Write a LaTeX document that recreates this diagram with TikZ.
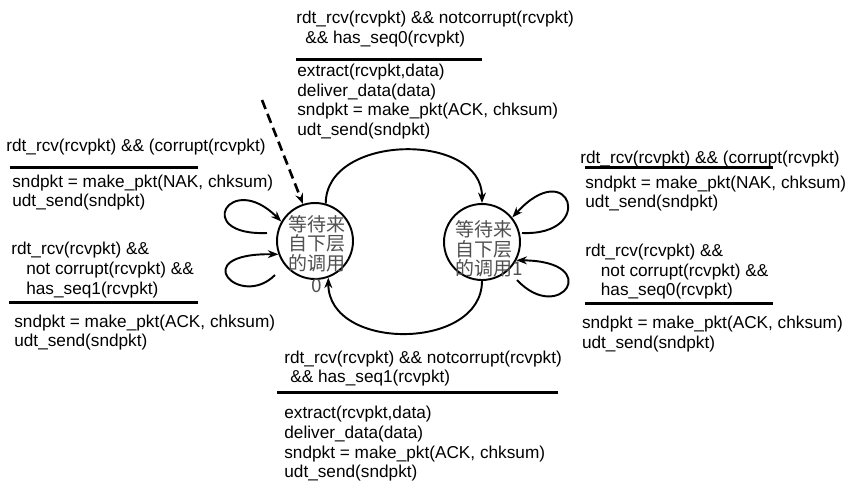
\documentclass[tikz,border=0pt]{standalone}
\usepackage{fontspec}
\setmainfont{Liberation Sans}
\newfontfamily\cjk{Noto Sans CJK SC}
\usetikzlibrary{arrows.meta}
\definecolor{stategray}{RGB}{80,80,80}

\begin{document}
\begin{tikzpicture}[x=0.02cm,y=0.02cm]
      \tikzstyle{state}=[circle,draw,line width=1.1pt,minimum size=1.52cm,inner sep=0]
      \tikzstyle{statetext}=[font=\cjk\fontsize{10.8}{11.1}\selectfont,text=stategray,inner sep=0]
      \tikzstyle{cond}=[anchor=north west,align=left,inner sep=0,font=\fontsize{9.8}{11.2}\selectfont]
      \tikzstyle{bar}=[line width=1.7pt]
      \tikzstyle{trans}=[-{Stealth[length=6pt,width=4.5pt]},line width=1.1pt]
      \useasboundingbox (0,0) rectangle (852,498);

      % the two states
      \node[state] (s0) at (315,257) {};
      \node[state] (s1) at (482,256) {};
      \node[statetext,align=center] (t0) at (317,244) {等待来\\自下层\\的调用\\[0.05cm]0};
      \node[statetext,align=left,anchor=west] (t1) at (455,249) {等待来\\自下层\\的调用1};

      % transitions
      \coordinate (init) at (262,398);
      \draw[trans,dashed,dash pattern=on 5.5pt off 3pt,line width=1.5pt] (init) -- (s0.108);
      \draw[trans] (s0.74) .. controls +(0,70) and +(0,72) .. (s1.90);
      \draw[trans] (s1.270) .. controls +(0,-70) and +(0,-74) .. (s0.290);
      \coordinate (l1) at (267,265);
      \coordinate (l2) at (275,223);
      \coordinate (r1) at (522,265);
      \coordinate (r2) at (517,218);
      \draw[trans] (l1) .. controls (192,262) and (230,328) .. (s0.150);
      \draw[trans] (l2) .. controls (240,188) and (185,245) .. (s0.200);
      \draw[trans] (r1) .. controls (597,262) and (570,344) .. (s1.39);
      \draw[trans] (r2) .. controls (560,172) and (605,237) .. (s1.332);

      % top: s0 -> s1
      \node[cond] (g01) at (296,487.5) {rdt\_rcv(rcvpkt) \&\& notcorrupt(rcvpkt)\\\hspace*{0.18cm}\&\& has\_seq0(rcvpkt)};
      \draw[bar] (296,438.7) -- (482,438.7);
      \node[cond] (a01) at (297,434.3) {extract(rcvpkt,data)\\deliver\_data(data)\\sndpkt = make\_pkt(ACK, chksum)\\udt\_send(sndpkt)};

      % left: s0 loops
      \node[cond] (g00a) at (6,359.3) {rdt\_rcv(rcvpkt) \&\& (corrupt(rcvpkt)};
      \draw[bar] (10,330.3) -- (198,330.3);
      \node[cond] (a00a) at (12,323.7) {sndpkt = make\_pkt(NAK, chksum)\\udt\_send(sndpkt)};
      \node[cond] (g00b) at (11,256) {rdt\_rcv(rcvpkt) \&\&\\\hspace*{0.3cm}not corrupt(rcvpkt) \&\&\\\hspace*{0.3cm}has\_seq1(rcvpkt)};
      \draw[bar] (9,195.7) -- (198,195.7);
      \node[cond] (a00b) at (14,183.7) {sndpkt = make\_pkt(ACK, chksum)\\udt\_send(sndpkt)};

      % right: s1 loops
      \node[cond] (g11a) at (580,347.7) {rdt\_rcv(rcvpkt) \&\& (corrupt(rcvpkt)};
      \draw[bar] (585,330.3) -- (773,330.3);
      \node[cond] (a11a) at (585,322.7) {sndpkt = make\_pkt(NAK, chksum)\\udt\_send(sndpkt)};
      \node[cond] (g11b) at (585,254.3) {rdt\_rcv(rcvpkt) \&\&\\\hspace*{0.31cm}not corrupt(rcvpkt) \&\&\\\hspace*{0.31cm}has\_seq0(rcvpkt)};
      \draw[bar] (585,194.7) -- (773,194.7);
      \node[cond] (a11b) at (581.7,182) {sndpkt = make\_pkt(ACK, chksum)\\udt\_send(sndpkt)};

      % bottom: s1 -> s0
      \node[cond] (g10) at (284,147.7) {rdt\_rcv(rcvpkt) \&\& notcorrupt(rcvpkt)\\\hspace*{0.12cm}\&\& has\_seq1(rcvpkt)};
      \draw[bar] (277,105.3) -- (558,105.3);
      \node[cond] (a10) at (284,92) {extract(rcvpkt,data)\\deliver\_data(data)\\sndpkt = make\_pkt(ACK, chksum)\\udt\_send(sndpkt)};
\end{tikzpicture}
\end{document}
